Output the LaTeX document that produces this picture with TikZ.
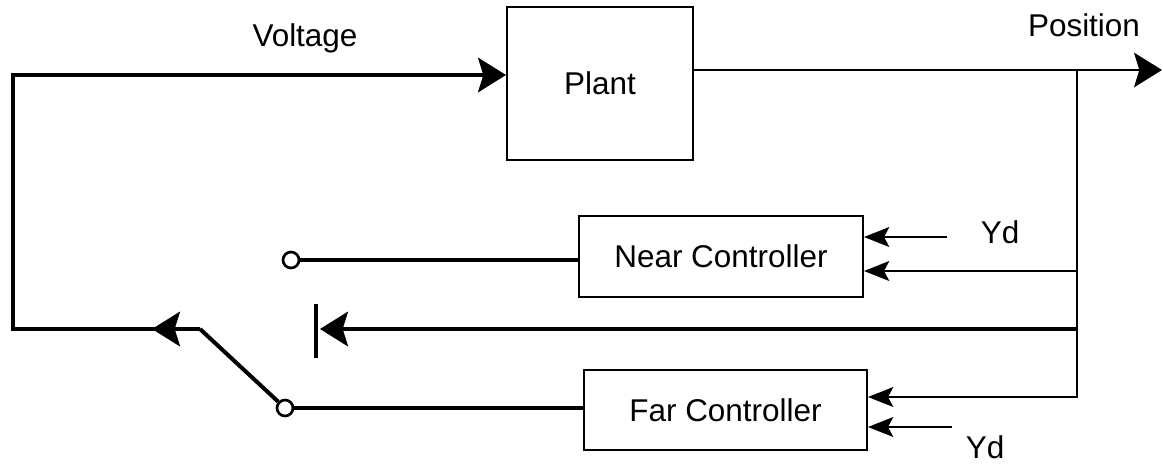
\documentclass[tikz,border=0pt]{standalone}
\usepackage{fontspec}
\setmainfont{Liberation Sans}
\usetikzlibrary{arrows.meta}
\newcommand\lblfont{\fontsize{23.6}{28}\selectfont}
\begin{document}
\begin{tikzpicture}[x=0.75pt,y=-0.75pt,
  bigtip/.tip={Stealth[length=21pt,width=26pt,inset=4pt]},
  smalltip/.tip={Stealth[length=19pt,width=15pt,inset=4pt]},
  box/.style={draw,line width=1.5pt,inner sep=0pt,font=\lblfont},
  lbl/.style={inner sep=0pt,font=\lblfont},
  term/.style={circle,draw,fill=white,line width=2pt,minimum size=12pt,inner sep=0pt},
  heavy/.style={line width=2.3pt},
  light/.style={line width=1.2pt},
  swbar/.style={line width=3pt}]
\useasboundingbox (0,0) rectangle (1163,465);
% nodes
\node[box,minimum width=139.5pt,minimum height=114.75pt] (plant) at (600,83.5) {Plant};
\node[box,minimum width=213pt,minimum height=60.75pt] (near) at (721,256.5) {Near Controller};
\node[box,minimum width=212.25pt,minimum height=60pt] (far) at (725.5,410) {Far Controller};
\node[lbl] (volt) at (305,38) {Voltage};
\node[lbl] (pos) at (1084,25) {Position};
\node[lbl] (yd1) at (1000,232) {Yd};
\node[lbl] (yd2) at (985,447) {Yd};
% coordinates
\coordinate (J) at (1077,70);
\coordinate (PosEnd) at (1162,70);
\coordinate (TL) at (13,75);
\coordinate (BL) at (13,329);
\coordinate (Pv) at (200,329);
\coordinate (Atip) at (152,329);
\coordinate (FB) at (1077,329);
\coordinate (FBtip) at (320,329);
\coordinate (BarT) at (316,304);
\coordinate (BarB) at (316,358);
\coordinate (Jn) at (1077,271);
\coordinate (Jf) at (1077,397);
\coordinate (Yn) at (947,237);
\coordinate (Yf) at (952,427);
% thin connectors
\draw[light,-{smalltip}] (plant.east |- J) -- (J) -- (Jf) -- (far.east |- Jf);
\draw[light,-{bigtip}] (J) -- (PosEnd);
\draw[light,-{smalltip}] (Jn) -- (near.east |- Jn);
\draw[light,-{smalltip}] (Yn) -- (near.east |- Yn);
\draw[light,-{smalltip}] (Yf) -- (far.east |- Yf);
% thick connectors
\draw[heavy,-{bigtip}] (FB) -- (FBtip);
\draw[heavy] (BarT) -- (BarB);
\draw[heavy,-{bigtip}] (Pv) -- (BL) -- (TL) -- (plant.west |- TL);
\draw[heavy,-{bigtip}] (Pv) -- (Atip);
% terminals and switch
\node[term] (c1) at (291,260) {};
\node[term] (c2) at (285,408) {};
\draw[heavy] (c1) -- (near.west |- c1);
\draw[heavy] (c2) -- (far.west |- c2);
\draw[swbar] (Pv) -- (c2);
\end{tikzpicture}
\end{document}
